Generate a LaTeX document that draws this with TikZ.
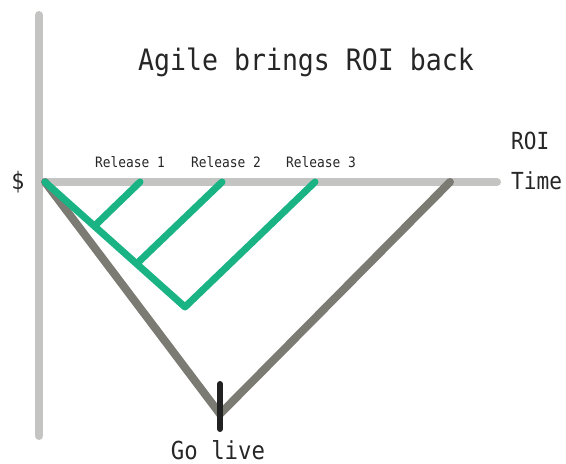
\documentclass[tikz,border=0pt]{standalone}
\usepackage{fontspec}
\newfontfamily\chartfont{DejaVu Sans Mono}[FakeStretch=0.9]
\definecolor{axisgray}{HTML}{C4C5C3}
\definecolor{vgray}{HTML}{7B7B73}
\definecolor{relgreen}{HTML}{1AB384}
\definecolor{tickblack}{HTML}{222222}
\tikzset{
  axisline/.style={draw=axisgray, line width=8pt, line cap=round},
  costline/.style={draw=vgray, line width=8pt, line cap=round, line join=round},
  releaseline/.style={draw=relgreen, line width=7pt, line cap=round, line join=round},
  golivetick/.style={draw=tickblack, line width=6pt, line cap=round},
  txt/.style={inner sep=0pt, anchor=base, text=black!85},
}
\begin{document}
\begin{tikzpicture}[x=1pt, y=-1pt]
  \useasboundingbox (0,0) rectangle (566,464);
  % axes
  \coordinate (ytop) at (39,15);
  \coordinate (ybot) at (39,436);
  \coordinate (origin) at (39,182);
  \coordinate (xend) at (497,182);
  \draw[axisline] (ytop) -- (ybot);
  \draw[axisline] (origin) -- (xend);
  % waterfall cost/return V
  \coordinate (start) at (45,182);
  \coordinate (golive) at (220,414);
  \coordinate (roi) at (450,182);
  \draw[costline] (start) -- (golive) -- (roi);
  % incremental releases
  \coordinate (gbottom) at (185,307);
  \coordinate (r1) at (140,182);
  \coordinate (r2) at (222,182);
  \coordinate (r3) at (315,182);
  \coordinate (b1) at (94.5,226);
  \coordinate (b2) at (137,263.5);
  \draw[releaseline] (start) -- (gbottom) -- (r3);
  \draw[releaseline] (b1) -- (r1);
  \draw[releaseline] (b2) -- (r2);
  % go-live marker
  \coordinate (ticktop) at (220,384);
  \coordinate (tickbot) at (220,429);
  \draw[golivetick] (ticktop) -- (tickbot);
  % labels
  \node[txt, font=\chartfont\fontsize{29.5}{31}\selectfont] (title) at (306,70) {Agile brings ROI back};
  \node[txt, font=\chartfont\fontsize{14.3}{16}\selectfont] (rel1) at (130,167) {Release 1};
  \node[txt, font=\chartfont\fontsize{14.3}{16}\selectfont] (rel2) at (226,167) {Release 2};
  \node[txt, font=\chartfont\fontsize{14.3}{16}\selectfont] (rel3) at (321,167) {Release 3};
  \node[txt, anchor=base west, font=\chartfont\fontsize{23.5}{25}\selectfont] (roilabel) at (511,149) {ROI};
  \node[txt, anchor=base west, font=\chartfont\fontsize{23.5}{25}\selectfont] (timelabel) at (511,189) {Time};
  \node[txt, font=\chartfont\fontsize{24.8}{26}\selectfont] (golivelabel) at (218,459) {Go live};
  \node[txt, font=\chartfont\fontsize{24}{26}\selectfont] (dollar) at (18,189) {\$};
\end{tikzpicture}
\end{document}
